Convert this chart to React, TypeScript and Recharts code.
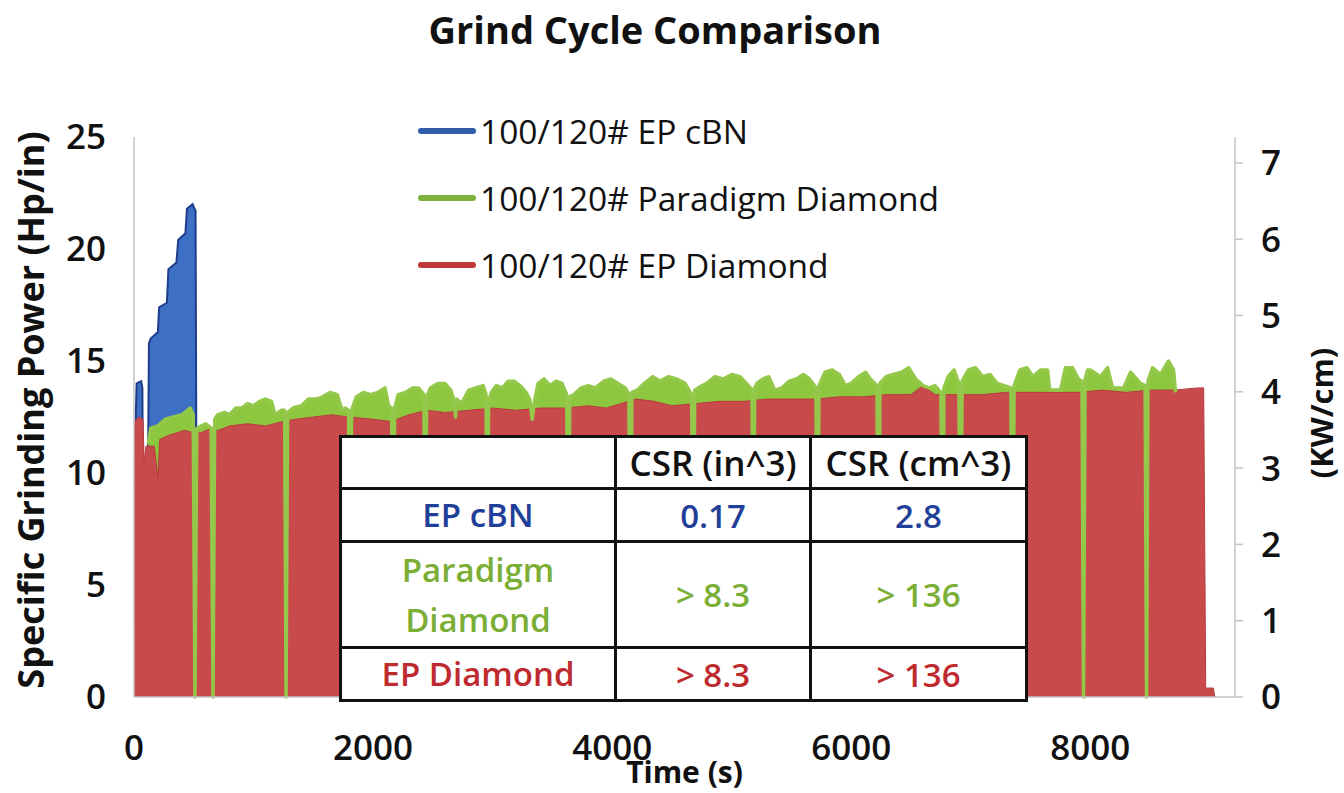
import { ComposedChart, Area, Line, XAxis, YAxis } from 'recharts'

// [time (s), specific grinding power (hp/in)]
const epCbn: [number, number][] = [
  [0, 0], [10, 11.5], [22, 14.0], [60, 14.1], [70, 13.8], [80, 5.0], [110, 5.0], [125, 15.8], [140, 16.0],
  [200, 16.3], [210, 17.4], [275, 17.6], [288, 19.1], [355, 19.4], [370, 20.4], [430, 20.7], [443, 21.8],
  [490, 22.0], [515, 21.7], [528, 0],
]

const paradigmDiamond: [number, number][] = [
  [120, 11.3], [140, 12.0], [200, 12.1], [260, 12.4], [330, 12.5], [400, 12.6], [470, 12.9], [495, 12.6], [510, 0], [525, 12.0],
  [560, 12.1], [600, 12.2], [645, 12.0], [661, 0], [675, 12.4],
  [700, 12.6], [760, 12.7], [800, 12.6], [850, 12.9], [900, 12.9], [950, 13.1], [1000, 13.0], [1050, 13.2], [1100, 13.3],
  [1150, 13.2], [1180, 12.6], [1230, 12.8], [1260, 12.8], [1272, 0], [1285, 12.7],
  [1330, 12.9], [1400, 13.0], [1460, 13.3], [1520, 13.3], [1580, 13.4], [1640, 13.6], [1700, 13.5], [1740, 12.8], [1770, 12.9],
  [1795, 12.8], [1808, 0], [1820, 12.8],
  [1860, 13.4], [1920, 13.6], [1980, 13.5], [2040, 13.6], [2100, 13.8], [2130, 13.0], [2155, 12.9], [2168, 0], [2180, 12.9],
  [2210, 13.5], [2270, 13.6], [2330, 13.8], [2380, 13.8], [2425, 13.5], [2436, 0], [2448, 13.4],
  [2480, 13.8], [2540, 14.0], [2600, 14.0], [2650, 13.7], [2680, 13.2], [2690, 12.5], [2700, 13.3],
  [2740, 13.1], [2800, 13.7], [2860, 13.8], [2920, 13.9], [2945, 13.5], [2955, 0], [2966, 13.2],
  [2990, 13.6], [3030, 13.9], [3080, 13.8], [3130, 14.1], [3180, 14.1], [3230, 13.9], [3280, 13.6], [3310, 13.3], [3331, 12.4], [3350, 13.2],
  [3380, 14.0], [3430, 14.2], [3480, 13.9], [3530, 14.1], [3580, 14.0], [3620, 13.5], [3633, 0], [3645, 13.4],
  [3680, 13.5], [3740, 13.8], [3800, 13.9], [3860, 13.8], [3930, 14.1], [3990, 14.2], [4050, 14.0], [4110, 13.8], [4140, 13.5], [4152, 0], [4165, 13.6],
  [4210, 13.7], [4270, 14.0], [4340, 14.3], [4400, 14.1], [4470, 14.3], [4540, 14.2], [4610, 14.0], [4665, 13.5], [4679, 0], [4690, 13.7],
  [4720, 13.8], [4790, 14.0], [4860, 14.3], [4930, 14.2], [5000, 14.4], [5070, 14.3], [5140, 13.9], [5170, 13.7], [5181, 0], [5192, 13.8],
  [5210, 14.0], [5260, 14.2], [5310, 14.3], [5360, 13.7], [5420, 13.8], [5480, 14.1], [5540, 14.2], [5600, 14.4], [5650, 14.2], [5705, 13.8], [5717, 0], [5730, 13.9],
  [5780, 14.5], [5840, 14.6], [5900, 14.4], [5950, 13.9], [6000, 14.0], [6060, 14.3], [6120, 14.5], [6160, 14.2], [6215, 13.9], [6227, 0], [6240, 14.0],
  [6290, 14.3], [6350, 14.4], [6420, 14.5], [6480, 14.7], [6540, 14.2], [6600, 13.9], [6650, 13.8], [6700, 13.9], [6750, 13.6], [6763, 0], [6775, 13.8],
  [6810, 14.3], [6860, 14.6], [6900, 14.0], [6914, 0], [6927, 14.1],
  [6980, 14.6], [7040, 14.7], [7100, 14.3], [7160, 14.4], [7220, 14.0], [7280, 13.9], [7335, 13.8], [7349, 0], [7362, 13.9],
  [7410, 14.6], [7470, 14.7], [7520, 14.3], [7583, 14.6], [7642, 14.6], [7660, 13.7], [7750, 13.7], [7792, 14.7], [7851, 14.7], [7900, 14.2], [7930, 14.1], [7943, 0], [7956, 14.2],
  [7977, 14.6], [8000, 14.6], [8085, 14.3], [8144, 14.7], [8186, 13.8], [8278, 13.8], [8336, 14.5], [8420, 14.0], [8458, 13.9], [8470, 0], [8482, 14.1],
  [8520, 14.7], [8587, 14.4], [8654, 15.0], [8696, 14.6], [8713, 13.6],
]

const epDiamond: [number, number][] = [
  [0, 0], [5, 12.3], [40, 12.5], [75, 12.4], [85, 10.5], [100, 11.2], [170, 11.2], [200, 9.8], [215, 11.5], [300, 11.7],
  [420, 11.9], [500, 11.8], [560, 11.8], [650, 12.0], [700, 11.9], [800, 12.1], [950, 12.2], [1100, 12.1], [1250, 12.3],
  [1350, 12.4], [1500, 12.5], [1650, 12.6], [1800, 12.5], [2000, 12.4], [2150, 12.3], [2300, 12.6], [2450, 12.8], [2600, 12.7],
  [2800, 12.8], [3000, 12.9], [3200, 12.8], [3400, 12.9], [3600, 12.9], [3800, 13.0], [3950, 12.9], [4200, 13.3], [4350, 13.2],
  [4500, 13.0], [4700, 13.1], [4900, 13.2], [5100, 13.2], [5300, 13.3], [5500, 13.3], [5700, 13.3], [5900, 13.4], [6100, 13.4],
  [6300, 13.5], [6500, 13.5], [6600, 13.9], [6700, 13.5], [6900, 13.5], [7100, 13.5], [7300, 13.6], [7500, 13.6], [7700, 13.6],
  [7900, 13.6], [8100, 13.7], [8300, 13.6], [8500, 13.7], [8700, 13.7], [8900, 13.8], [8948, 13.8], [8965, 0.4], [9030, 0.4], [9040, 0],
]

const timeTicks = [0, 2000, 4000, 6000, 8000]
const hpTicks = [0, 5, 10, 15, 20, 25]
const kwTicks = [0, 1, 2, 3, 4, 5, 6, 7]

const legendItems = [
  { name: '100/120# EP cBN', color: '#2f5daa' },
  { name: '100/120# Paradigm Diamond', color: '#7fb23a' },
  { name: '100/120# EP Diamond', color: '#c0383a' },
]

const csrHeader = ['', 'CSR (in^3)', 'CSR (cm^3)']
const csrRows = [
  { label: ['EP cBN'], values: ['0.17', '2.8'], color: '#1f3f98' },
  { label: ['Paradigm', 'Diamond'], values: ['> 8.3', '> 136'], color: '#7aae34' },
  { label: ['EP Diamond'], values: ['> 8.3', '> 136'], color: '#be2a2e' },
]

const HP_IN_TO_KW_CM = 0.7457 / 2.54
const FONT = '"Open Sans", "Noto Sans", sans-serif'

function buildRows() {
  const byTime = new Map<number, any>()
  const add = (pts: [number, number][], key: string) =>
    pts.forEach(([t, v]) => {
      const row = byTime.get(t) ?? { t }
      row[key] = v
      byTime.set(t, row)
    })
  add(epCbn, 'cbn')
  add(paradigmDiamond, 'paradigm')
  add(epDiamond, 'diamond')
  return [...byTime.values()].sort((a, b) => a.t - b.t)
}

const rows = buildRows()
const tickStyle = { fill: '#111', fontSize: 35, fontWeight: 600, fontFamily: FONT }
const axisTitle = { fill: '#111', fontWeight: 700, fontFamily: FONT }

export default function App() {
  return (
    <div style={{ position: 'absolute', left: 0, top: 0, width: 1344, height: 793, background: '#fff', fontFamily: FONT }}>
      <ComposedChart width={1344} height={793} data={rows} margin={{ top: 137, right: 0, bottom: 0, left: 0 }}>
        <XAxis
          dataKey="t"
          type="number"
          domain={[0, 9210]}
          ticks={timeTicks}
          allowDataOverflow
          height={96}
          tickLine={false}
          tickSize={0}
          tickMargin={38}
          tick={tickStyle}
          axisLine={{ stroke: '#c4c4c4', strokeWidth: 1.5 }}
          label={{
            content: ({ viewBox }: any) => (
              <text x={viewBox.x + viewBox.width / 2} y={viewBox.y + 86} textAnchor="middle" style={{ ...axisTitle, fontSize: 30 }}>
                Time (s)
              </text>
            ),
          }}
        />
        <YAxis
          yAxisId="hp"
          type="number"
          domain={[0, 25]}
          ticks={hpTicks}
          width={134}
          tickLine={false}
          tickSize={0}
          tickMargin={28}
          tick={tickStyle}
          axisLine={{ stroke: '#c4c4c4', strokeWidth: 1.5 }}
          label={{
            content: ({ viewBox }: any) => (
              <text
                transform={`translate(${viewBox.x + 30}, ${viewBox.y + viewBox.height / 2 - 7}) rotate(-90)`}
                textAnchor="middle"
                dominantBaseline="central"
                style={{ ...axisTitle, fontSize: 36 }}
              >
                Specific Grinding Power (Hp/in)
              </text>
            ),
          }}
        />
        <YAxis
          yAxisId="kw"
          orientation="right"
          type="number"
          domain={[0, 25 * HP_IN_TO_KW_CM]}
          ticks={kwTicks}
          allowDataOverflow
          width={109}
          tickSize={8}
          tickMargin={18}
          tick={{ ...tickStyle, textAnchor: 'start' }}
          tickLine={{ stroke: '#c4c4c4', strokeWidth: 1.5 }}
          axisLine={{ stroke: '#c4c4c4', strokeWidth: 1.5 }}
          label={{
            content: ({ viewBox }: any) => (
              <text
                transform={`translate(${viewBox.x + 86}, ${viewBox.y + viewBox.height / 2 - 4}) rotate(-90)`}
                textAnchor="middle"
                dominantBaseline="central"
                style={{ ...axisTitle, fontSize: 31 }}
              >
                (KW/cm)
              </text>
            ),
          }}
        />
        <Area
          yAxisId="hp"
          dataKey="cbn"
          type="linear"
          connectNulls
          fill="#3d6fc4"
          fillOpacity={1}
          stroke="#1f3d8a"
          strokeWidth={2}
          isAnimationActive={false}
        />
        <Area
          yAxisId="hp"
          dataKey="paradigm"
          type="linear"
          connectNulls
          fill="#8dc63f"
          fillOpacity={1}
          stroke="none"
          isAnimationActive={false}
        />
        <Area
          yAxisId="hp"
          dataKey="diamond"
          type="linear"
          connectNulls
          fill="#c94a4a"
          fillOpacity={1}
          stroke="#b83c3c"
          strokeWidth={1}
          isAnimationActive={false}
        />
        <Line
          yAxisId="hp"
          dataKey="paradigm"
          type="linear"
          connectNulls
          dot={false}
          stroke="#94c84a"
          strokeWidth={3.5}
          strokeLinejoin="round"
          isAnimationActive={false}
        />
      </ComposedChart>

      {/* title */}
      <div style={{ position: 'absolute', left: 0, width: 1310, top: 3, textAlign: 'center', fontSize: 38, fontWeight: 700, color: '#111' }}>
        Grind Cycle Comparison
      </div>

      {/* legend */}
      {legendItems.map((it, i) => (
        <div key={it.name} style={{ position: 'absolute', left: 418, top: 108 + i * 67, height: 46, display: 'flex', alignItems: 'center' }}>
          <div style={{ width: 58, height: 6, borderRadius: 3, background: it.color, marginRight: 4 }} />
          <span style={{ fontSize: 33.5, fontWeight: 500, color: '#111', whiteSpace: 'nowrap' }}>{it.name}</span>
        </div>
      ))}

      {/* CSR table */}
      <table
        style={{
          position: 'absolute', left: 339, top: 435, width: 686, height: 262,
          borderCollapse: 'collapse', background: '#fff', fontSize: 33, fontWeight: 600, tableLayout: 'fixed',
        }}
      >
        <colgroup>
          <col style={{ width: 275 }} />
          <col style={{ width: 195 }} />
          <col style={{ width: 216 }} />
        </colgroup>
        <tbody>
          <tr style={{ height: 52 }}>
            {csrHeader.map((h, i) => (
              <td key={i} style={{ border: '3px solid #111', textAlign: 'center', fontSize: 35, color: '#111', padding: 0 }}>{h}</td>
            ))}
          </tr>
          {csrRows.map(r => (
            <tr key={r.label.join(' ')} style={{ height: r.label.length > 1 ? 106 : 52 }}>
              <td style={{ border: '3px solid #111', textAlign: 'center', color: r.color, padding: 0, lineHeight: '50px' }}>
                {r.label.map(l => <div key={l}>{l}</div>)}
              </td>
              {r.values.map((v, j) => (
                <td key={j} style={{ border: '3px solid #111', textAlign: 'center', color: r.color, padding: 0 }}>{v}</td>
              ))}
            </tr>
          ))}
        </tbody>
      </table>
    </div>
  )
}
